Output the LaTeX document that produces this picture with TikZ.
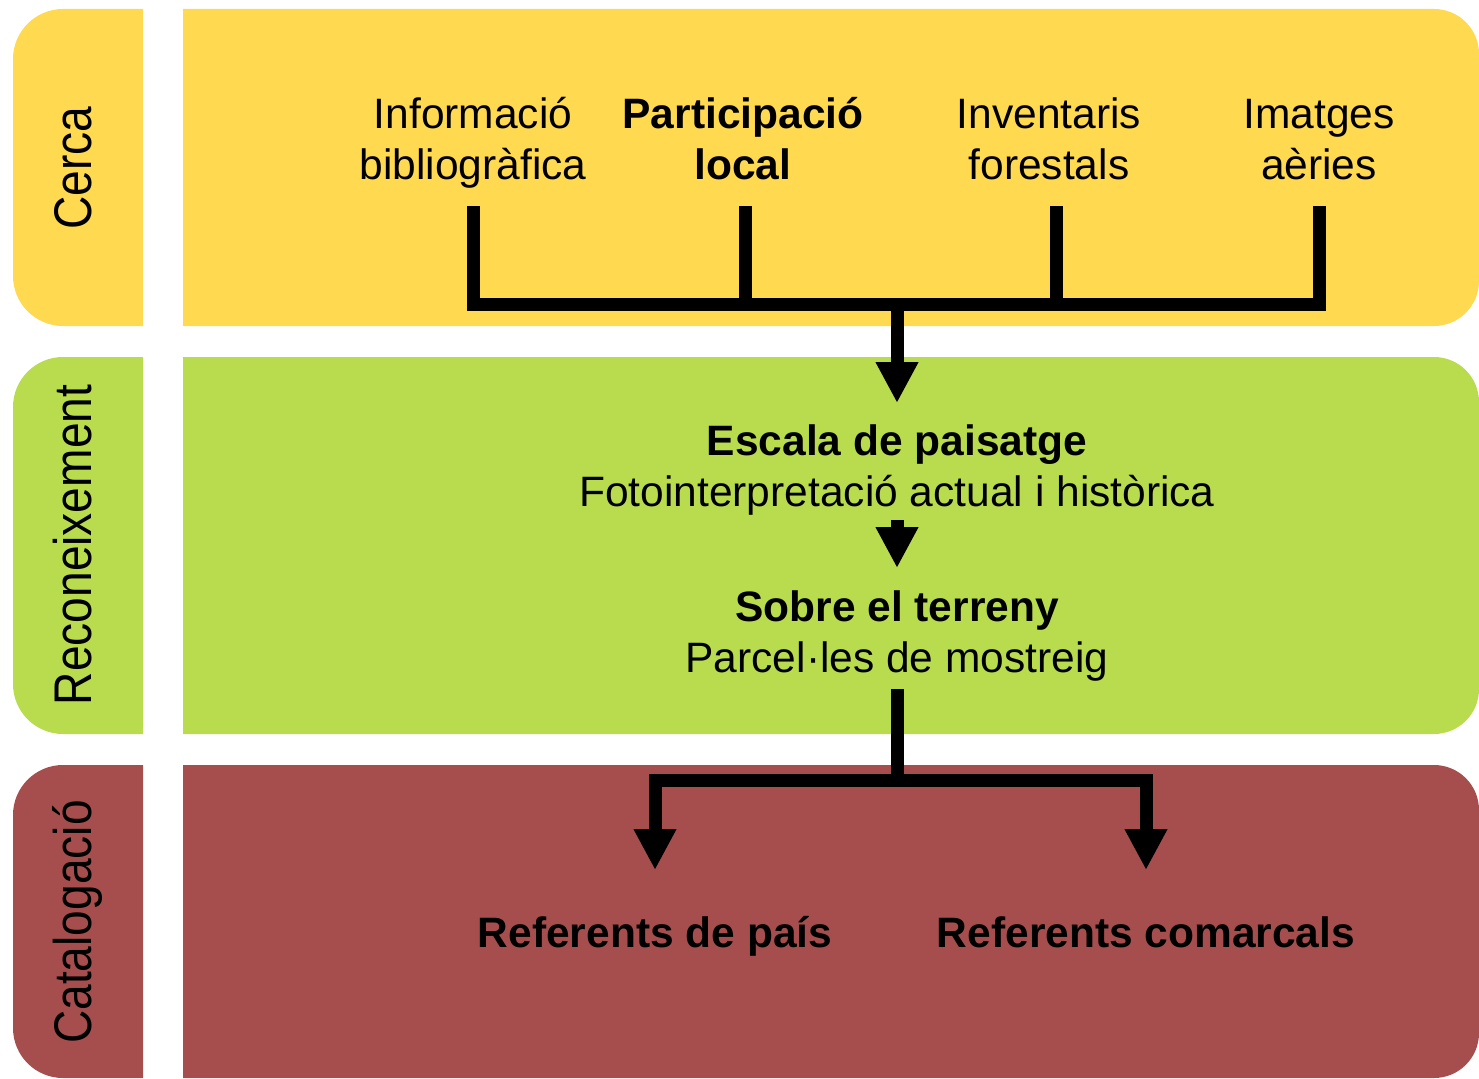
\documentclass[tikz,border=0pt]{standalone}
\usepackage{fontspec}
\setmainfont{Liberation Sans}
\newfontfamily\tabfont[FakeStretch=0.87]{Liberation Sans}
\usepackage{tikz}
\usetikzlibrary{arrows.meta}
\definecolor{cercaYellow}{HTML}{FFD94F}
\definecolor{reconGreen}{HTML}{B9DC4F}
\definecolor{catRed}{HTML}{A64E4E}

\begin{document}
\begin{tikzpicture}[x=1pt,y=-1pt,
	bar/.style={line width=13pt},
	head/.style={-{Triangle[width=40pt,length=41pt]}},
	txt/.style={font=\fontsize{42.5}{51}\selectfont,align=center,inner sep=0pt,anchor=base},
	tabtxt/.style={font=\tabfont\fontsize{53}{60}\selectfont,rotate=90,inner sep=0pt,anchor=base}]
\useasboundingbox (0,0) rectangle (1479,1078);
% bands
\foreach \top/\bot/\col in {9/326/cercaYellow,357/734/reconGreen,765/1078/catRed}{
	\begin{scope}
		\clip (13,\top) rectangle (143,\bot);
		\fill[\col,rounded corners=50pt] (13,\top) rectangle (300,\bot);
	\end{scope}
	\begin{scope}
		\clip (183,\top) rectangle (1479,\bot);
		\fill[\col,rounded corners=45pt] (0,\top) rectangle (1479,\bot);
	\end{scope}
}
\node [tabtxt] (cerca) at (91,168) {Cerca};
\node [tabtxt] (recon) at (91,545) {Reconeixement};
\node [tabtxt] (catal) at (91,922) {Catalogació};
% cerca (base = last line)
\node [txt] (info) at (473,179) {Informació\\bibliogràfica};
\node [txt] (partic) at (743,179) {\bfseries Participació\\\bfseries local};
\node [txt] (invent) at (1049,179) {Inventaris\\forestals};
\node [txt] (imatges) at (1319,179) {Imatges\\aèries};
\coordinate (t1) at (473,206);
\coordinate (t2) at (745,206);
\coordinate (t3) at (1056,206);
\coordinate (t4) at (1319,206);
\coordinate (hub) at (897,304);
\coordinate (tip1) at (897,403);
\draw [bar] (t1) |- (hub) -| (t4);
\draw [bar] (t2) -- (t2 |- hub);
\draw [bar] (t3) -- (t3 |- hub);
\draw [bar,head] (hub) -- (tip1);
% reconeixement
\node [txt] (escala) at (897,506) {\bfseries Escala de paisatge\\Fotointerpretació actual i històrica};
\node [txt] (sobre) at (897,672) {\bfseries Sobre el terreny\\Parcel·les de mostreig};
\coordinate (m1) at (897,520);
\coordinate (tip2) at (897,568);
\draw [bar,head] (m1) -- (tip2);
% catalogacio
\coordinate (s1) at (897,689);
\coordinate (fork) at (897,780);
\coordinate (tipL) at (655,870);
\coordinate (tipR) at (1146,870);
\draw [bar] (s1) -- (fork);
\draw [bar,{Triangle[width=40pt,length=41pt]}-{Triangle[width=40pt,length=41pt]}] (tipL) |- (fork) -| (tipR);
\node [txt] (pais) at (655,947) {\bfseries Referents de país};
\node [txt] (comarca) at (1146,947) {\bfseries Referents comarcals};
\end{tikzpicture}
\end{document}
